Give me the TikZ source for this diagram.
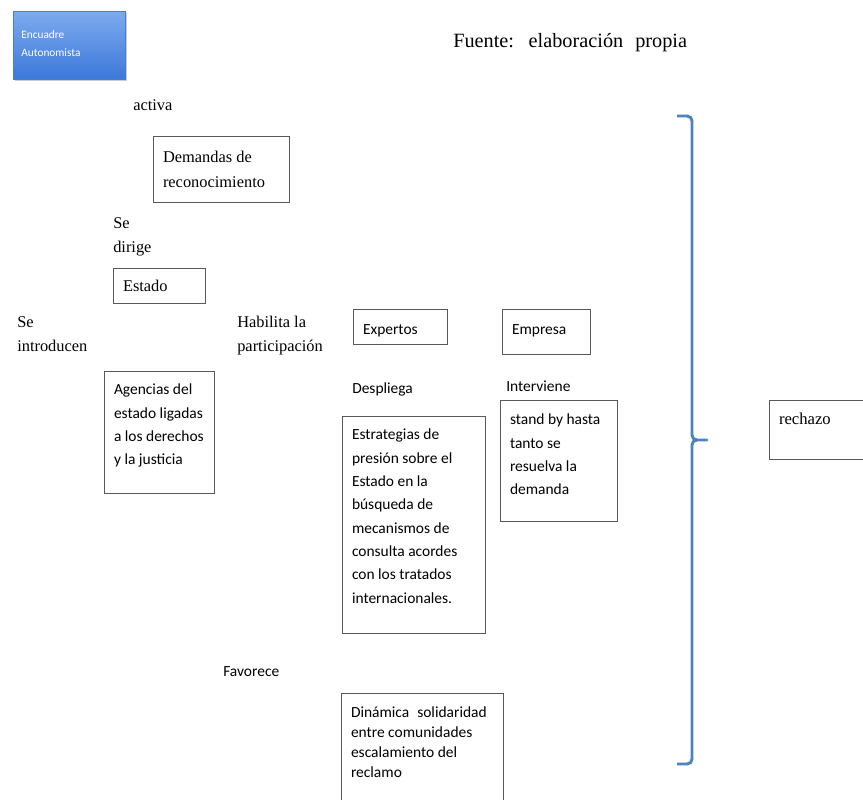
\documentclass[tikz,border=0pt]{standalone}
\usepackage{fontspec}
\setmainfont{Liberation Serif}
\newfontfamily\calfont{Carlito}
\newfontfamily\serfont{Liberation Serif}
\usetikzlibrary{shadows}
\definecolor{bracecol}{HTML}{4F81BD}
\definecolor{enctop}{HTML}{7DAAEE}
\definecolor{encbot}{HTML}{3C78DA}
\definecolor{encline}{HTML}{4A7CC8}
\newcommand{\bxt}[4]{\parbox[t][#2][t]{#1}{\raggedright\rule{0pt}{#3}#4}}
\newcommand{\lbl}[2]{\parbox[t]{#1}{\raggedright #2}}
\tikzset{
  box/.style={draw=black!65, line width=1pt, anchor=north west, inner xsep=7pt, inner ysep=3pt},
  calbox/.style={box, font=\calfont\fontsize{11.6pt}{17.5pt}\selectfont},
  serbox/.style={box, font=\serfont\fontsize{12.3pt}{19pt}\selectfont},
  serlbl/.style={anchor=base west, inner sep=0pt, font=\serfont\fontsize{12.3pt}{18.6pt}\selectfont},
  callbl/.style={anchor=base west, inner sep=0pt, font=\calfont\fontsize{11.6pt}{17.5pt}\selectfont},
  bracestyle/.style={draw=bracecol, line width=2.2pt, line join=round},
}
\begin{document}
\begin{tikzpicture}[x=0.75pt, y=-0.75pt]
\useasboundingbox (0,0) rectangle (863,799);
\clip (0,0) rectangle (863,799);
\fill[white] (0,0) rectangle (863,799);

% blue header box
\node[anchor=north west, draw=encline, line width=0.5pt, top color=enctop, bottom color=encbot,
      inner xsep=6pt, inner ysep=3pt, text=white,
      font=\calfont\fontsize{8.5pt}{13.5pt}\selectfont,
      drop shadow={shadow xshift=1pt, shadow yshift=-1.5pt, fill=black!40, opacity=0.5}]
  (enc) at (13,11) {\bxt{72pt}{45pt}{17.25pt}{Encuadre\\Autonomista}};

\node[anchor=base west, inner sep=0pt, font=\serfont\fontsize{15.2pt}{17pt}\selectfont]
  (fuente) at (453,48) {Fuente:\hspace{11pt}elaboración\hspace{9pt}propia};

% labels
\node[serlbl] (activa) at (133,110) {activa};
\node[serlbl] (dirige) at (113,228) {\lbl{60pt}{Se\\dirige}};
\node[serlbl] (introducen) at (17,327) {\lbl{70pt}{Se\\introducen}};
\node[serlbl] (habilita) at (237,327) {\lbl{80pt}{Habilita la\\participación}};
\node[callbl] (despliega) at (352,393) {Despliega};
\node[callbl] (interviene) at (506,391) {Interviene};
\node[callbl] (favorece) at (223,676) {Favorece};

% boxes
\node[serbox] (demandas) at (153,136) {\bxt{88pt}{43.5pt}{16pt}{Demandas de\\reconocimiento}};
\node[serbox] (estado) at (113,268) {\bxt{55pt}{20.25pt}{14.25pt}{Estado}};
\node[calbox] (agencias) at (104,371) {\bxt{68.5pt}{85.5pt}{14.25pt}{Agencias del\\estado ligadas\\a los derechos\\y la justicia}};
\node[calbox] (expertos) at (353,309) {\bxt{56.5pt}{20.25pt}{15.5pt}{Expertos}};
\node[calbox] (empresa) at (502,309) {\bxt{52pt}{27.75pt}{15.5pt}{Empresa}};
\node[calbox] (standby) at (500,400) {\bxt{73.75pt}{84.75pt}{15pt}{stand by hasta\\tanto se\\resuelva la\\demanda}};
\node[calbox] (estrategias) at (342,416) {\bxt{93.25pt}{156.75pt}{14.25pt}{Estrategias de\\presión sobre el\\Estado en la\\búsqueda de\\mecanismos de\\consulta acordes\\con los tratados\\internacionales.}};
\node[calbox, font=\calfont\fontsize{11.6pt}{15pt}\selectfont] (dinamica) at (341,693) {\bxt{107.5pt}{91.5pt}{15pt}{Dinámica\hspace{6pt}solidaridad\\entre comunidades\\escalamiento del\\reclamo}};
\node[serbox, font=\serfont\fontsize{12.5pt}{18pt}\selectfont] (rechazo) at (769,400) {\bxt{76pt}{38.25pt}{15pt}{rechazo}};

% brace
\draw[bracestyle] (677,116) -- (687,116) .. controls (690,116) and (692,118) .. (692,121)
  -- (692,435) .. controls (692,438) and (694,440) .. (697,440) -- (707,440)
  -- (697,440) .. controls (694,440) and (692,442) .. (692,445)
  -- (692,759) .. controls (692,762) and (690,764) .. (687,764) -- (677,764);
\end{tikzpicture}
\end{document}
